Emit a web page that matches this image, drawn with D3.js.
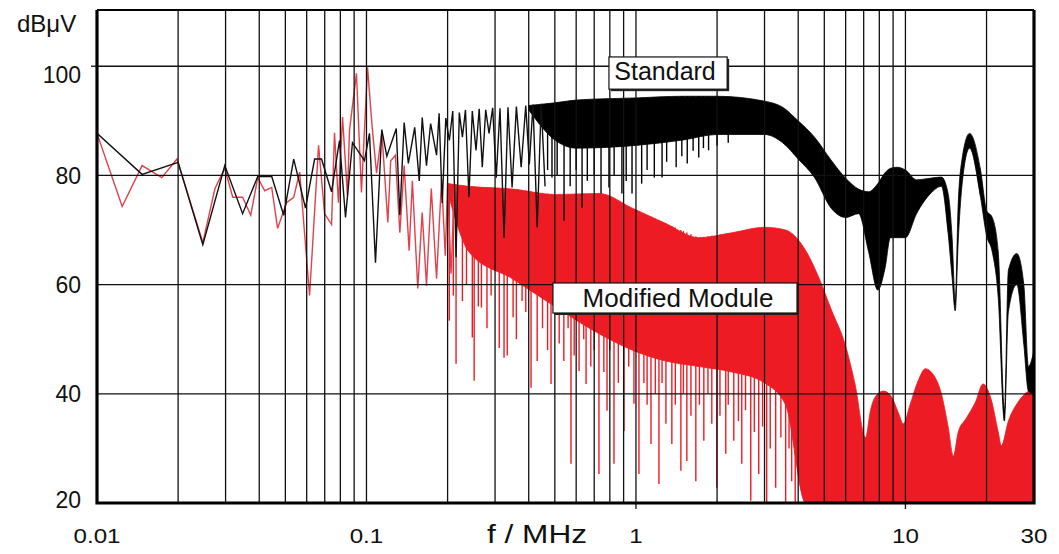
<!DOCTYPE html>
<html>
<head>
<meta charset="utf-8">
<script src="https://cdn.jsdelivr.net/npm/d3@7"></script>
<style>
  body { margin: 0; background: #fff; }
  svg text { font-family: "Liberation Sans", Arial, sans-serif; fill: #111; }
</style>
</head>
<body>
<div id="chart"></div>
<script>
// axis labels
var xTicks = [0.01, 0.1, 1, 10, 30];
var yTicks = [20, 40, 60, 80, 100];

// Standard: low frequency trace [MHz, dBuV]
var stdTrace = [
    [0.01, 87.7], [0.0147, 80.2], [0.020, 82.4], [0.0247, 67.3], [0.0298, 81.8],
    [0.0347, 73.0], [0.0395, 79.8], [0.0445, 79.8], [0.0493, 72.7], [0.0537, 83.0],
    [0.0594, 74.0], [0.0642, 83.0], [0.0681, 83.0], [0.0742, 77.0], [0.0794, 86.4],
    [0.0836, 72.3], [0.0887, 86.0], [0.0983, 82.7], [0.1026, 87.7], [0.108, 64.0],
    [0.114, 88.4], [0.119, 83.5], [0.129, 88.6], [0.133, 72.7], [0.138, 89.7],
    [0.143, 82.2], [0.151, 88.8], [0.157, 79.0], [0.161, 90.6], [0.167, 81.8],
    [0.173, 89.5], [0.182, 83.7], [0.186, 91.4], [0.191, 74.9], [0.197, 90.5],
    [0.203, 86.4], [0.209, 91.8], [0.215, 65.0], [0.221, 91.5], [0.227, 87.0],
    [0.233, 92.0], [0.240, 76.0], [0.247, 91.8], [0.255, 84.6], [0.262, 92.2],
    [0.269, 81.5], [0.277, 92.0], [0.285, 87.7], [0.294, 92.4], [0.303, 79.6],
    [0.313, 92.3], [0.324, 68.6], [0.335, 92.5], [0.347, 77.8], [0.360, 92.6],
    [0.375, 81.5], [0.390, 92.8], [0.402, 82.0], [0.415, 93.0], [0.430, 70.5],
    [0.445, 93.1], [0.46, 78.0]
];

// Standard: dense part, [MHz, upper, lower]
var stdBand = [
    [0.40, 92.8, 92.0], [0.5, 93.3, 86.5], [0.6, 93.8, 85.0], [1.0, 94.2, 85.5],
    [1.5, 94.5, 86.5], [2.0, 94.5, 87.5], [3.0, 93.6, 87.5], [3.5, 92.5, 86.0],
    [4.0, 90.0, 83.0], [4.6, 87.0, 79.6], [5.3, 82.8, 74.0], [6.0, 79.5, 72.3],
    [6.7, 77.5, 73.0], [7.3, 77.0, 66.0], [7.9, 78.5, 59.0], [8.4, 80.5, 63.0],
    [8.8, 81.3, 68.6], [9.3, 81.5, 68.6], [10, 81.0, 68.6], [11, 79.2, 73.0],
    [12.4, 79.5, 76.7], [13.6, 79.7, 78.0], [14.4, 76.7, 69.4], [14.9, 68.6, 61.3],
    [15.3, 57.0, 55.2], [15.7, 74.8, 68.0], [16.2, 82.8, 78.0], [17.3, 87.7, 85.0],
    [19.0, 81.0, 76.0], [20.0, 73.6, 69.0], [21.0, 72.3, 66.0], [22.1, 66.0, 57.6],
    [23.3, 37.0, 35.0], [24.1, 62.6, 55.0], [25.9, 65.7, 60.0], [27.5, 60.0, 49.0],
    [28.6, 45.0, 40.5], [30, 48.0, 40.0]
];

// Standard: dips below the dense part
var stdSpikes = [
    [0.47, 81.0], [0.488, 79.6], [0.51, 80.0], [0.541, 71.7], [0.57, 78.0],
    [0.60, 81.0], [0.631, 74.1], [0.66, 79.0], [0.70, 80.0], [0.742, 76.7],
    [0.794, 77.8], [0.83, 80.0], [0.887, 76.7], [0.92, 79.0], [0.967, 76.7],
    [1.05, 78.5], [1.1, 81.0], [1.17, 79.6], [1.25, 79.6], [1.3, 82.5],
    [1.41, 81.5], [1.48, 83.5], [1.55, 82.2], [1.63, 84.5], [1.71, 83.3],
    [1.78, 85.0], [1.86, 84.6], [2.0, 85.5], [2.2, 86.0]
];

// Modified Module: low frequency trace
var modTrace = [
    [0.01, 87.7], [0.0124, 74.3], [0.0147, 81.8], [0.0174, 79.6], [0.0198, 83.0],
    [0.0247, 67.7], [0.0274, 77.6], [0.0298, 81.3], [0.0319, 76.0], [0.0347, 76.0],
    [0.0372, 72.7], [0.0395, 79.6], [0.0419, 77.2], [0.0445, 77.8], [0.0468, 70.3],
    [0.0505, 75.0], [0.0537, 76.0], [0.0565, 80.6], [0.0615, 58.0], [0.0664, 85.5],
    [0.0699, 73.0], [0.0742, 71.0], [0.0761, 87.8], [0.0787, 75.0], [0.0815, 90.7],
    [0.085, 76.3], [0.0865, 88.3], [0.0918, 98.7], [0.0958, 76.9], [0.1009, 99.8],
    [0.105, 88.8], [0.109, 80.4], [0.114, 88.0], [0.12, 71.4], [0.123, 82.7],
    [0.128, 83.7], [0.133, 69.5], [0.138, 81.8], [0.144, 66.2], [0.148, 79.0],
    [0.155, 59.3], [0.161, 73.2], [0.167, 59.8], [0.174, 77.6], [0.182, 61.1],
    [0.19, 79.4], [0.196, 65.3], [0.20, 78.5], [0.206, 62.0], [0.212, 78.0]
];

// Modified Module: dense part, [MHz, upper, lower]
var modBand = [
    [0.20, 78.5, 77.0], [0.24, 78.0, 66.0], [0.35, 77.5, 61.0], [0.5, 76.5, 56.0],
    [0.73, 76.7, 51.0], [0.97, 74.0, 48.0], [1.29, 71.2, 46.0], [1.71, 68.6, 45.0],
    [2.27, 69.5, 44.0], [3.0, 70.5, 42.0], [3.59, 70.0, 38.0], [4.27, 66.2, 20.0],
    [4.77, 61.3, 20.0], [5.33, 55.2, 20.0], [5.96, 49.2, 20.0], [6.5, 41.8, 20.0],
    [7.11, 32.0, 20.0], [7.42, 37.0, 20.0], [7.74, 39.5, 20.0], [8.29, 40.5, 20.0],
    [8.87, 39.5, 20.0], [9.42, 36.5, 20.0], [9.83, 34.5, 20.0], [10.4, 38.0, 20.0],
    [11.17, 42.5, 20.0], [11.86, 44.6, 20.0], [12.7, 43.5, 20.0], [13.6, 40.0, 20.0],
    [14.4, 34.0, 20.0], [15.06, 28.6, 20.0], [15.7, 33.0, 20.0], [16.8, 35.5, 20.0],
    [18.2, 38.5, 20.0], [19.4, 41.8, 20.0], [20.8, 39.0, 20.0], [22.1, 33.0, 20.0],
    [22.7, 30.5, 20.0], [24.1, 35.0, 20.0], [26.2, 38.5, 20.0], [28.6, 40.5, 20.0],
    [30, 41.0, 20.0]
];

// Modified Module: dips below the dense part
var modSpikes = [
    [0.203, 53.4], [0.21, 58.0], [0.215, 45.5], [0.227, 57.0], [0.235, 60.0],
    [0.247, 50.3], [0.251, 42.4], [0.26, 56.0], [0.267, 55.8], [0.28, 52.0],
    [0.29, 58.0], [0.311, 48.4], [0.324, 46.6], [0.333, 47.0], [0.35, 54.0],
    [0.36, 50.0], [0.378, 57.0], [0.39, 55.0], [0.408, 41.1], [0.43, 46.0],
    [0.45, 52.0], [0.47, 48.0], [0.484, 41.8], [0.519, 49.2], [0.54, 46.0],
    [0.56, 52.0], [0.574, 27.2], [0.59, 47.0], [0.615, 44.2], [0.64, 50.0],
    [0.653, 41.8], [0.68, 45.0], [0.70, 48.0], [0.729, 25.3], [0.76, 44.0],
    [0.781, 36.9], [0.80, 48.0], [0.829, 27.2], [0.86, 42.0], [0.903, 33.2],
    [0.94, 45.0], [0.983, 38.2], [1.026, 25.3], [1.07, 42.0], [1.1, 38.0],
    [1.137, 30.8], [1.18, 40.0], [1.217, 23.5], [1.25, 42.0], [1.292, 34.5],
    [1.359, 30.8], [1.4, 38.0], [1.468, 25.9], [1.5, 40.0], [1.545, 27.7],
    [1.6, 36.0], [1.668, 24.0], [1.72, 38.0], [1.786, 31.4], [1.85, 40.0],
    [1.912, 34.5], [1.995, 22.8], [2.05, 36.0], [2.154, 29.0], [2.2, 38.0],
    [2.307, 31.4], [2.4, 35.0], [2.47, 27.2], [2.55, 37.0], [2.667, 20.4],
    [2.75, 33.0], [2.855, 25.3], [2.95, 34.0], [3.056, 20.0], [3.15, 30.0],
    [3.30, 22.8], [3.45, 32.0], [3.594, 20.0], [3.7, 30.0], [3.783, 24.0],
    [3.9, 20.0], [4.05, 26.0]
];

// annotation boxes: text, [f left, f right], [dB top, dB bottom]
var noteText = ['Standard', 'Modified Module'];
var noteF = [[0.794, 2.18], [0.492, 3.96]];
var noteDb = [[101.7, 95.8], [60.3, 54.8]];

var width = 1059, height = 554;
var red = '#ed1c24', redLine = '#e2404c';

var x = d3.scaleLog().domain([0.01, 30]).range([97, 1034]);
var y = d3.scaleLinear().domain([20, 110.3]).range([503, 10]);

var svg = d3.select('#chart').append('svg')
    .attr('width', width)
    .attr('height', height);

svg.append('defs').append('clipPath').attr('id', 'plot-clip')
    .append('rect')
    .attr('x', x(0.01)).attr('y', y(110.3))
    .attr('width', x(30) - x(0.01)).attr('height', y(20) - y(110.3));

var plot = svg.append('g').attr('clip-path', 'url(#plot-clip)');

var line = d3.line()
    .x(function(d) { return x(d[0]); })
    .y(function(d) { return y(d[1]); });

var band = d3.area()
    .curve(d3.curveMonotoneX)
    .x(function(d) { return x(d[0]); })
    .y0(function(d) { return y(d[2]); })
    .y1(function(d) { return y(d[1]); });

// upper edge of a band as a piecewise function of f
function bandTop(rows) {
    return d3.scaleLog()
        .domain(rows.map(function(d) { return d[0]; }))
        .range(rows.map(function(d) { return d[1]; }))
        .clamp(true);
}

function drawSeries(trace, rows, spikes, fill, stroke) {
    var top = bandTop(rows);

    plot.append('path')
        .datum(rows)
        .attr('d', band)
        .style('fill', fill)
        .style('stroke', fill)
        .style('stroke-width', 0.8);

    plot.selectAll(null)
        .data(spikes)
        .enter()
        .append('line')
        .attr('x1', function(d) { return x(d[0]); })
        .attr('x2', function(d) { return x(d[0]); })
        .attr('y1', function(d) { return y(d[1]); })
        .attr('y2', function(d) { return y(top(d[0])); })
        .style('stroke', fill)
        .style('stroke-width', 1.4);

    plot.append('path')
        .datum(trace)
        .attr('d', line)
        .style('fill', 'none')
        .style('stroke', stroke)
        .style('stroke-width', 1.4)
        .style('stroke-linejoin', 'miter');
}

drawSeries(modTrace, modBand, modSpikes, red, redLine);
drawSeries(stdTrace, stdBand, stdSpikes, '#000', '#111');

// grid on top of the traces
var grid = svg.append('g');
grid.selectAll('.vgrid')
    .data(x.ticks())
    .enter()
    .append('line')
    .attr('class', 'vgrid')
    .attr('x1', function(d) { return x(d); })
    .attr('x2', function(d) { return x(d); })
    .attr('y1', y(110.3))
    .attr('y2', y(20))
    .style('stroke', '#111')
    .style('stroke-width', 1.3);

grid.selectAll('.hgrid')
    .data(yTicks)
    .enter()
    .append('line')
    .attr('class', 'hgrid')
    .attr('x1', x(0.01))
    .attr('x2', x(30))
    .attr('y1', function(d) { return y(d); })
    .attr('y2', function(d) { return y(d); })
    .style('stroke', '#111')
    .style('stroke-width', 1.3);

// small outside ticks
grid.append('line')
    .attr('x1', x(0.01) - 6).attr('x2', x(0.01))
    .attr('y1', y(100)).attr('y2', y(100))
    .style('stroke', '#111').style('stroke-width', 1.3);
grid.selectAll('.xtick')
    .data([1, 10])
    .enter()
    .append('line')
    .attr('x1', function(d) { return x(d); })
    .attr('x2', function(d) { return x(d); })
    .attr('y1', y(20)).attr('y2', y(20) + 6)
    .style('stroke', '#111').style('stroke-width', 1.3);

// frame
svg.append('line')
    .attr('x1', x(0.01)).attr('x2', x(30))
    .attr('y1', y(110.3)).attr('y2', y(110.3))
    .style('stroke', '#000').style('stroke-width', 2);
svg.append('path')
    .attr('d', 'M' + x(0.01) + ',' + y(110.3) + 'V' + y(20) + 'H' + x(30) + 'V' + y(110.3))
    .style('fill', 'none')
    .style('stroke', '#000')
    .style('stroke-width', 3.2);

// y axis labels
svg.selectAll('.ylabel')
    .data(yTicks)
    .enter()
    .append('text')
    .attr('class', 'ylabel')
    .attr('x', 81)
    .attr('y', function(d) { return y(d) + (d === 100 ? 8 : (d === 20 ? -3 : 0)); })
    .attr('dy', '0.36em')
    .attr('text-anchor', 'end')
    .style('font-size', '23px')
    .text(function(d) { return d; });

svg.append('text')
    .attr('x', 17)
    .attr('y', 32)
    .style('font-size', '24px')
    .text('dBμV');

// x axis labels, slightly widened like the original
svg.selectAll('.xlabel')
    .data(xTicks)
    .enter()
    .append('text')
    .attr('class', 'xlabel')
    .attr('transform', function(d) { return 'translate(' + x(d) + ',543) scale(1.15,1)'; })
    .attr('text-anchor', 'middle')
    .style('font-size', '21px')
    .text(function(d) { return d; });

svg.append('text')
    .attr('x', 487)
    .attr('y', 543)
    .attr('textLength', 100)
    .attr('lengthAdjust', 'spacingAndGlyphs')
    .style('font-size', '26px')
    .text('f / MHz');

// annotation boxes
noteText.forEach(function(t, i) {
    var x0 = x(noteF[i][0]), x1 = x(noteF[i][1]);
    var y0 = y(noteDb[i][0]), y1 = y(noteDb[i][1]);
    var g = svg.append('g');
    g.append('rect')
        .attr('x', x0 + 2).attr('y', y0 + 2)
        .attr('width', x1 - x0).attr('height', y1 - y0)
        .style('fill', '#222');
    g.append('rect')
        .attr('x', x0).attr('y', y0)
        .attr('width', x1 - x0).attr('height', y1 - y0)
        .style('fill', '#fff')
        .style('stroke', '#111')
        .style('stroke-width', 1.2);
    g.append('text')
        .attr('x', (x0 + x1) / 2 + (i === 1 ? 3 : -3))
        .attr('y', y1 - (i === 1 ? 6 : 9))
        .attr('text-anchor', 'middle')
        .style('font-size', i === 1 ? '26px' : '25px')
        .text(t);
});
</script>
</body>
</html>
